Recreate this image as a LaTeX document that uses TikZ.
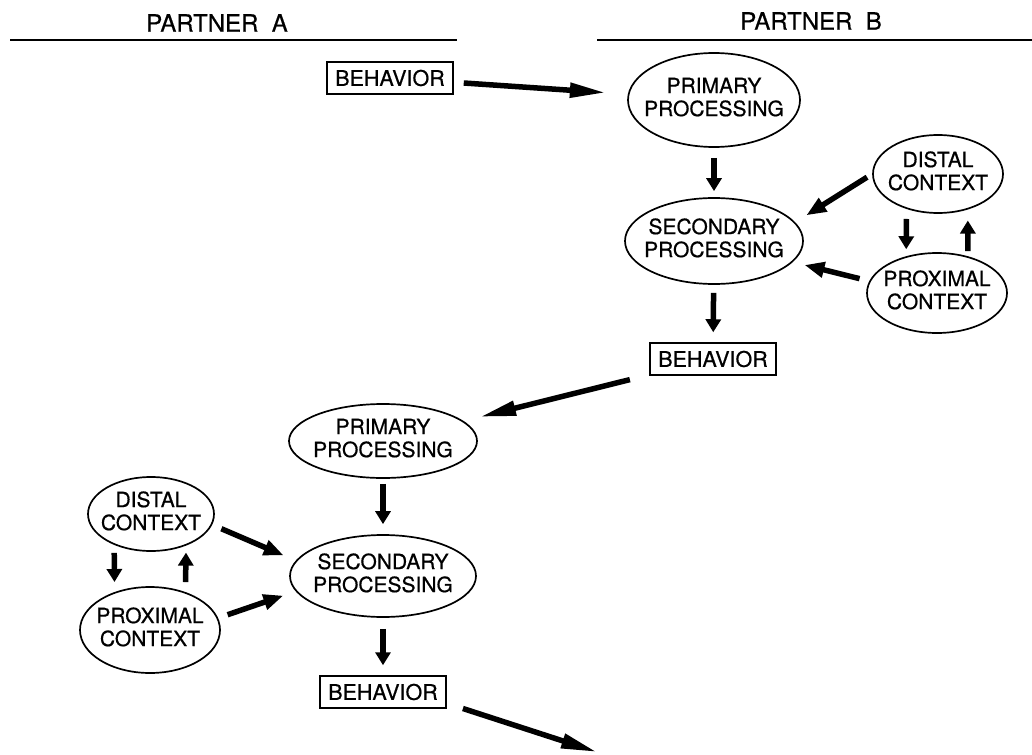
\documentclass[tikz,border=0pt]{standalone}
\usepackage{fontspec}
\setmainfont{TeX Gyre Heros}[FakeBold=0.6]
\usetikzlibrary{shapes.geometric,arrows.meta}

\newcommand{\etiq}[2]{\makebox[0pt]{\begin{tabular}{@{}c@{}}#1\\#2\end{tabular}}}

\begin{document}
\begin{tikzpicture}[
    x=1pt, y=-1pt,
    proc/.style={ellipse, draw, line width=1.7pt, inner sep=0pt, font=\fontsize{21}{23}\selectfont},
    act/.style={rectangle, draw, line width=1.5pt, inner sep=0pt, minimum width=126pt, minimum height=32pt, font=\fontsize{21.5}{23}\selectfont},
    head/.style={font=\fontsize{24}{26}\selectfont},
    flow/.style={line width=5.5pt, -{Triangle[length=36pt,width=14pt]}},
    cflow/.style={line width=5.5pt, -{Triangle[length=20pt,width=15pt]}},
    vflow/.style={line width=5.5pt, -{Triangle[length=13pt,width=15pt]}}
]
\useasboundingbox (0,0) rectangle (1032,754);

% En-tetes
\node[head] (partA) at (217,23) {PARTNER\ \ A};
\node[head] (partB) at (811,21) {PARTNER\ \ B};
\draw[line width=1.6pt] (10,40) -- (457,40);
\draw[line width=1.6pt] (597,40) -- (1032,40);

% Partenaire B
\node[act] (beh1) at (390,78) {BEHAVIOR};
\node[proc, minimum width=172pt, minimum height=94pt] (prim1) at (714,100) {\etiq{PRIMARY}{PROCESSING}};
\node[proc, minimum width=178pt, minimum height=86pt] (sec1) at (714,241) {\etiq{SECONDARY}{PROCESSING}};
\node[proc, minimum width=130pt, minimum height=78pt] (dist1) at (938,174) {\etiq{DISTAL}{CONTEXT}};
\node[proc, minimum width=140pt, minimum height=80pt] (prox1) at (937,293) {\etiq{PROXIMAL}{CONTEXT}};
\node[act] (beh2) at (713,359) {BEHAVIOR};

% Partenaire A
\node[proc, minimum width=188pt, minimum height=74pt] (prim2) at (383,441) {\etiq{PRIMARY}{PROCESSING}};
\node[proc, minimum width=186pt, minimum height=82pt] (sec2) at (383,576) {\etiq{SECONDARY}{PROCESSING}};
\node[proc, minimum width=126pt, minimum height=74pt] (dist2) at (151,514) {\etiq{DISTAL}{CONTEXT}};
\node[proc, minimum width=140pt, minimum height=86pt] (prox2) at (150,630) {\etiq{PROXIMAL}{CONTEXT}};
\node[act] (beh3) at (383,692) {BEHAVIOR};
\coordinate (sortie) at (597,752);

% Fleches B
\draw[flow, shorten <=10pt, shorten >=22pt] (beh1) -- (prim1);
\draw[vflow, shorten <=10pt, shorten >=6pt] (prim1) -- (sec1);
\draw[vflow, shorten <=8pt, shorten >=10pt] (sec1) -- (beh2);
\draw[cflow, shorten <=6pt, shorten >=13pt] (dist1.west) -- (sec1.13);
\draw[cflow, shorten <=10pt, shorten >=12pt] (prox1.170) -- (sec1.-15);
\draw[vflow, shorten <=10pt, shorten >=7pt] (dist1.228) -- (prox1.130);
\draw[vflow, shorten <=5pt, shorten >=11pt] (prox1.50) -- (dist1.310);

% Fleches A
\draw[flow, shorten <=20pt, shorten >=17pt] (beh2) -- (prim2);
\draw[vflow, shorten <=5pt, shorten >=10pt] (prim2) -- (sec2);
\draw[vflow, shorten <=11pt, shorten >=10pt] (sec2) -- (beh3);
\draw[cflow, shorten <=10pt, shorten >=13pt] (dist2.-10) -- (sec2.170);
\draw[cflow, shorten <=10pt, shorten >=13pt] (prox2.10) -- (sec2.190);
\draw[vflow, shorten <=8pt, shorten >=10pt] (dist2.220) -- (prox2.133);
\draw[vflow, shorten <=10pt, shorten >=7pt] (prox2.47) -- (dist2.318);
\draw[flow, shorten <=17pt] (beh3.-10) -- (sortie);

\end{tikzpicture}
\end{document}
